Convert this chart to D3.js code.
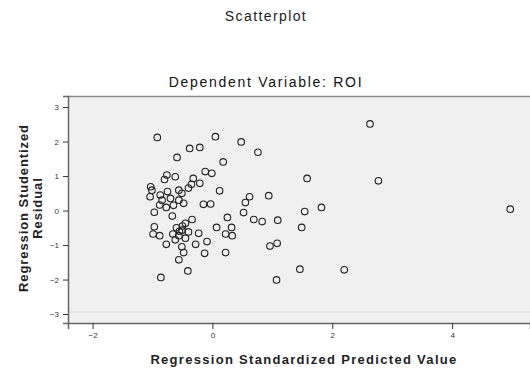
<!DOCTYPE html>
<html><head><meta charset="utf-8">
<script src="https://cdn.jsdelivr.net/npm/d3@7"></script>
<style>body{margin:0;background:#fff}svg{display:block}</style>
</head><body>
<svg id="c" width="530" height="372"></svg>
<script>
const xVals = [-0.92,0.05,0.48,0.76,2.63,-0.38,-0.21,-0.59,0.18,-0.12,-0.01,-0.76,-0.62,-0.80,-0.32,1.58,2.77,-1.03,-1.01,-0.35,-0.21,0.12,-0.56,-0.51,-0.87,-1.04,0.94,0.62,0.55,-0.84,-0.88,-0.77,-0.56,-0.48,-0.15,-0.03,1.82,4.97,-0.97,-0.67,-0.34,0.25,0.52,0.69,0.83,1.09,1.54,1.49,-0.97,-0.45,0.07,0.32,-0.99,-0.88,-0.66,-0.56,-0.51,-0.23,0.22,0.33,-0.77,-0.51,-0.28,-0.09,-0.13,0.22,-0.48,-0.56,0.96,1.08,-0.41,-0.86,1.46,2.20,1.07,-0.60,-0.50,-0.55,-0.45,-0.62,-0.40,-0.70,-0.65,-0.75,-0.40];
const yVals = [2.12,2.14,1.99,1.69,2.51,1.80,1.83,1.54,1.41,1.13,1.08,1.03,0.98,0.90,0.93,0.93,0.86,0.69,0.59,0.76,0.79,0.57,0.59,0.50,0.45,0.40,0.43,0.40,0.23,0.30,0.16,0.09,0.30,0.21,0.18,0.19,0.09,0.04,-0.05,-0.16,-0.26,-0.20,-0.06,-0.26,-0.32,-0.28,-0.03,-0.49,-0.47,-0.37,-0.49,-0.49,-0.68,-0.73,-0.68,-0.73,-0.57,-0.66,-0.68,-0.73,-0.98,-1.05,-0.98,-0.90,-1.24,-1.22,-1.22,-1.43,-1.03,-0.95,-1.75,-1.94,-1.70,-1.72,-2.01,-0.50,-0.45,-0.60,-0.80,-0.85,-0.62,0.35,0.15,0.55,0.65];
const xTicks = [-2,0,2,4];
const yTicks = [-3,-2,-1,0,1,2,3];
const title = "Scatterplot";
const subtitle = "Dependent Variable: ROI";
const xLabel = "Regression Standardized Predicted Value";
const yLabel = ["Regression Studentized","Residual"];

const svg = d3.select("#c");
const L=68, T=96, R=530, B=323;
const x = d3.scaleLinear().domain([-2.41,5.30]).range([L,R]);
const y = d3.scaleLinear().domain([-3.26,3.32]).range([B,T]);
const font = "Arial, 'Liberation Sans', sans-serif";

svg.append("text").attr("x",266).attr("y",21).attr("text-anchor","middle")
  .attr("font-family",font).attr("font-size",14).attr("letter-spacing",1.4).attr("fill","#222").text(title);
svg.append("text").attr("x",266).attr("y",87).attr("text-anchor","middle")
  .attr("font-family",font).attr("font-size",14).attr("letter-spacing",1.7).attr("fill","#111").text(subtitle);

svg.append("rect").attr("x",L).attr("y",T).attr("width",R-L).attr("height",B-T)
  .attr("fill","#f0f0f0");
svg.append("line").attr("x1",L).attr("x2",R).attr("y1",y(-3)-2).attr("y2",y(-3)-2)
  .attr("stroke","#dcdcdc").attr("stroke-width",1);
svg.append("line").attr("x1",L).attr("x2",R).attr("y1",T+0.5).attr("y2",T+0.5)
  .attr("stroke","#8a8a8a").attr("stroke-width",1.5);

const ga = svg.append("g").attr("transform",`translate(${L},0)`)
  .call(d3.axisLeft(y).tickValues(yTicks).tickSize(5).tickPadding(4).tickFormat(d3.format("d")));
const gb = svg.append("g").attr("transform",`translate(0,${B})`)
  .call(d3.axisBottom(x).tickValues(xTicks).tickSize(6).tickPadding(3).tickFormat(d3.format("d")));
[ga,gb].forEach(g=>{
  g.select(".domain").attr("stroke","#666").attr("stroke-width",1.5);
  g.selectAll(".tick line").attr("stroke","#333");
  g.selectAll("text").attr("font-family",font).attr("font-size",8).attr("fill","#333");
});

svg.append("g").selectAll("circle").data(xVals.map((v,i)=>[v,yVals[i]])).join("circle")
  .attr("cx",d=>x(d[0])).attr("cy",d=>y(d[1])).attr("r",3.3)
  .attr("fill","none").attr("stroke","#222").attr("stroke-width",1.1);

svg.append("text").attr("x",304).attr("y",364).attr("text-anchor","middle")
  .attr("font-family",font).attr("font-size",13).attr("font-weight","bold").attr("letter-spacing",1.3)
  .attr("fill","#222").text(xLabel);
const yl = svg.append("text").attr("transform","translate(28,208) rotate(-90)")
  .attr("text-anchor","middle").attr("font-family",font).attr("font-size",13)
  .attr("font-weight","bold").attr("letter-spacing",0.9).attr("fill","#222");
yl.selectAll("tspan").data(yLabel).join("tspan").attr("x",0).attr("dy",(d,i)=>i?14:0).text(d=>d);
</script>
</body></html>
